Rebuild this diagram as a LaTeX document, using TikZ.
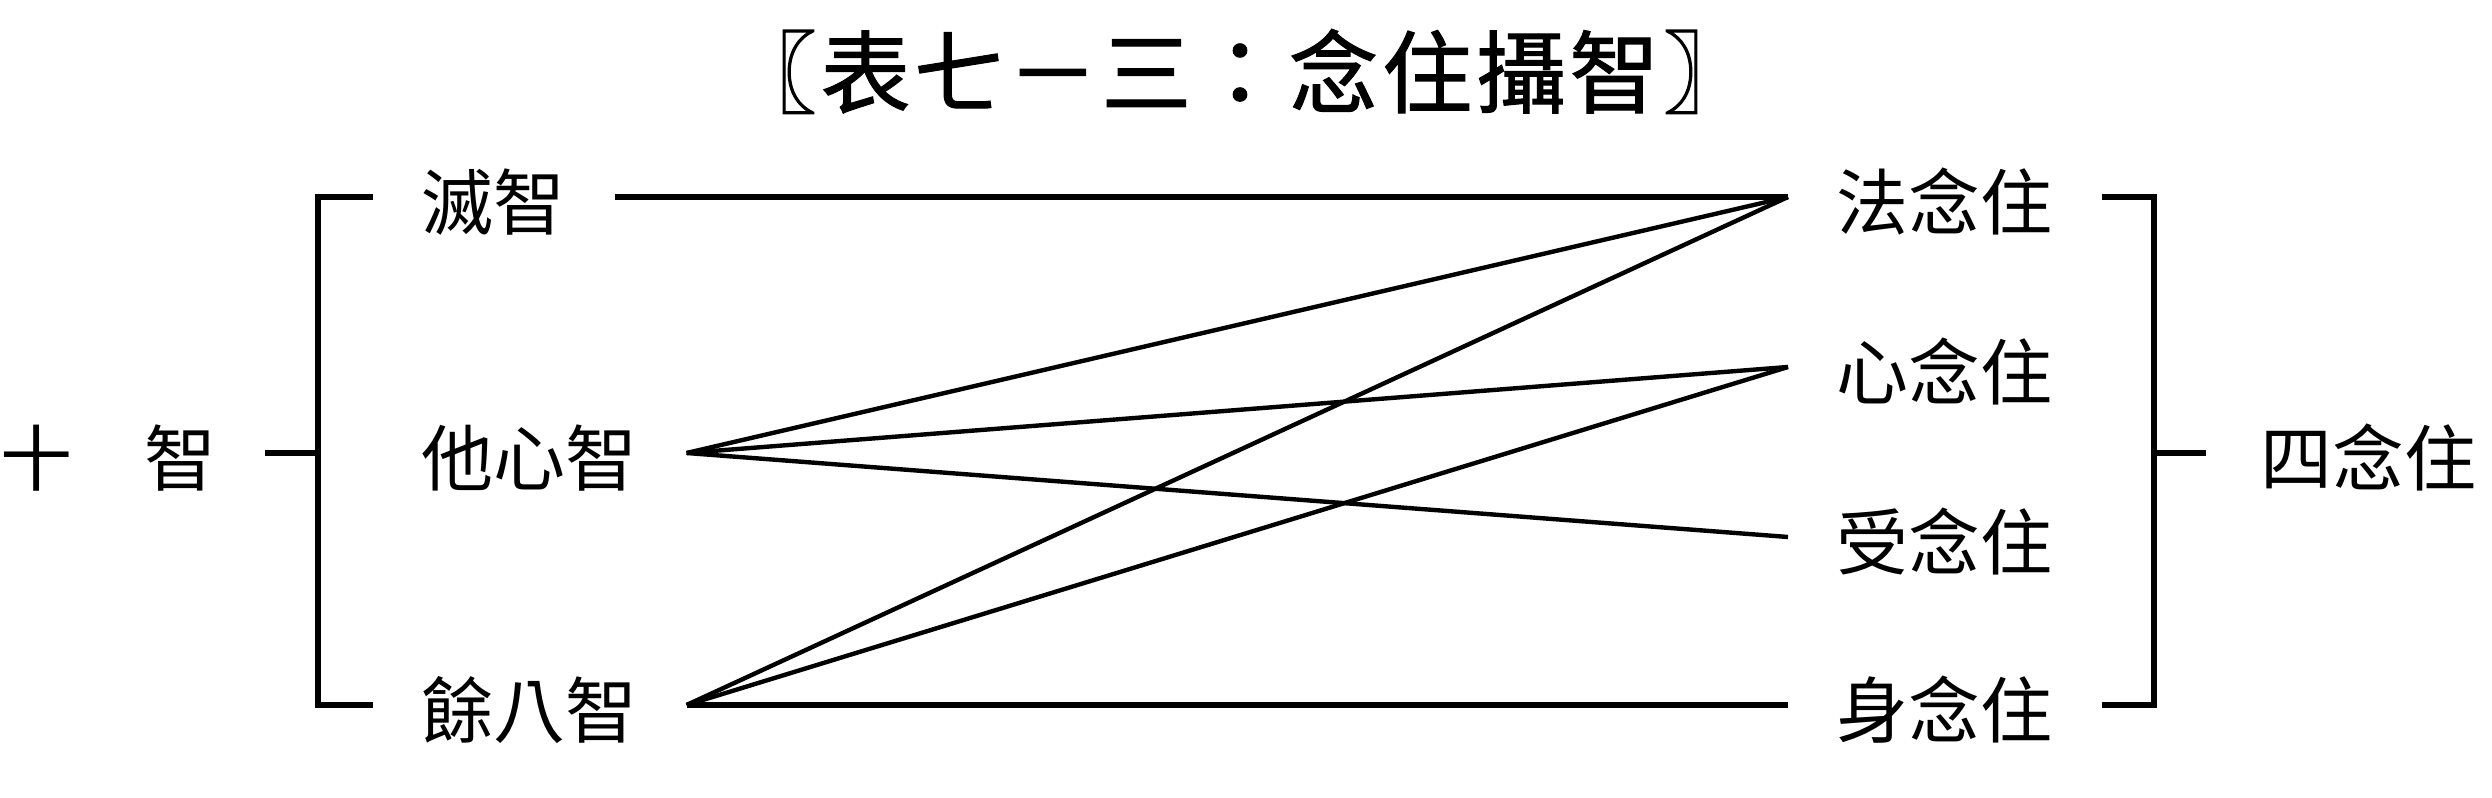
\documentclass[tikz,border=0pt]{standalone}
\usepackage{fontspec}
\usepackage{tikz}
\usetikzlibrary{positioning}
\newfontfamily\cjk{Noto Sans CJK TC}
\newfontfamily\cjktitle[LetterSpace=4, FakeBold=1.2]{Noto Sans CJK TC}

\begin{document}
\begin{tikzpicture}[x=0.25pt, y=-0.25pt,
    zhi/.style={inner xsep=12pt, inner ysep=0pt, text height=16.2pt, text depth=0pt,
        font=\cjk\fontsize{18}{18}\selectfont},
    brk/.style={line width=1.5pt},
    lnk/.style={line width=1.1pt}]
    \useasboundingbox (0,0) rectangle (2492,798);

    % 標題
    \node[inner sep=0pt, text height=17.1pt, text depth=0pt,
        font=\cjktitle\fontsize{22.5}{22.5}\selectfont] (title) at (1240,72) {〖表七－三：念住攝智〗};

    % 十智
    \node[zhi, anchor=east] (shizhi) at (265,453) {十　智};
    \node[zhi, anchor=west] (miezhi) at (373,197) {滅智};
    \node[zhi, anchor=west] (taxin) at (373,453) {他心智};
    \node[zhi, anchor=west] (yuba) at (373,705) {餘八智};

    % 四念住
    \node[zhi, anchor=west] (fa) at (1788,197) {法念住};
    \node[zhi, anchor=west] (xin) at (1788,367) {心念住};
    \node[zhi, anchor=west] (shou) at (1788,537) {受念住};
    \node[zhi, anchor=west] (shen) at (1788,705) {身念住};
    \node[zhi, anchor=west, inner xsep=13.5pt] (sinian) at (2206,453) {四念住};

    % 括號
    \coordinate (lmid) at (318,453);
    \coordinate (rmid) at (2153,453);
    \draw[brk] (miezhi.west) -- ++(-55,0) |- (yuba.west);
    \draw[brk] (shizhi.east) -- (lmid);
    \draw[brk] (fa.east) -- ++(52,0) |- (shen.east);
    \draw[brk] (rmid) -- (sinian.west);

    % 連線
    \draw[brk] (miezhi.east) -- (fa.west);
    \draw[brk] (yuba.east) -- (shen.west);
    \draw[lnk] (taxin.east) -- (fa.west);
    \draw[lnk] (taxin.east) -- (xin.west);
    \draw[lnk] (taxin.east) -- (shou.west);
    \draw[lnk] (yuba.east) -- (fa.west);
    \draw[lnk] (yuba.east) -- (xin.west);
\end{tikzpicture}
\end{document}
